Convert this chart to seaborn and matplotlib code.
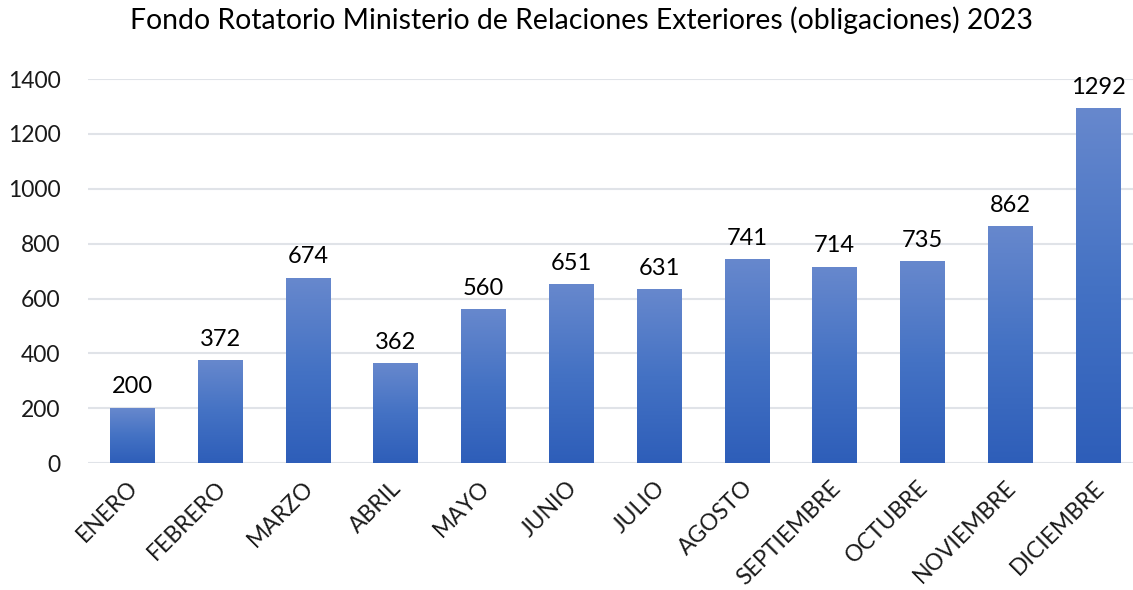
import matplotlib
matplotlib.use("Agg")
import matplotlib.pyplot as plt
import matplotlib.transforms as mtransforms
import numpy as np
import pandas as pd
import seaborn as sns
from matplotlib.colors import LinearSegmentedColormap

months = ["ENERO", "FEBRERO", "MARZO", "ABRIL", "MAYO", "JUNIO", "JULIO",
          "AGOSTO", "SEPTIEMBRE", "OCTUBRE", "NOVIEMBRE", "DICIEMBRE"]
obligaciones = [200, 372, 674, 362, 560, 651, 631, 741, 714, 735, 862, 1292]

df = pd.DataFrame({"mes": months, "valor": obligaciones})

sns.set_theme(style="white")
plt.rcParams["font.family"] = ["Lato", "DejaVu Sans"]

fig, ax = plt.subplots(figsize=(11.33, 5.9), dpi=100)
fig.subplots_adjust(left=0.078, right=1.008, top=0.866, bottom=0.215)

sns.barplot(data=df, x="mes", y="valor", color="#4472C4", width=0.51, ax=ax)

# vertical gradient fill on each bar (Excel-style)
cmap = LinearSegmentedColormap.from_list("grad", ["#2E5EB9", "#4472C4", "#6788CD"])
grad = np.linspace(0, 1, 256).reshape(-1, 1)
for patch in ax.patches:
    x0, w, h = patch.get_x(), patch.get_width(), patch.get_height()
    patch.set_facecolor("none")
    patch.set_edgecolor("none")
    ax.imshow(grad, cmap=cmap, origin="lower", aspect="auto",
              extent=(x0, x0 + w, 0, h), zorder=2)
    ax.text(x0 + w / 2, h + 40, f"{int(h)}", ha="center", va="bottom",
            fontsize=17, color="black")

ax.set_xlim(-0.5, len(months) - 0.5)
ax.set_ylim(0, 1400)
ax.set_yticks(range(0, 1401, 200))
ax.yaxis.grid(True, color="#E0E3E8", linewidth=1.5)
ax.set_axisbelow(True)
for s in ax.spines.values():
    s.set_visible(False)

ax.set_xlabel("")
ax.set_ylabel("")
ax.tick_params(axis="both", length=0, labelsize=16.5, colors="#1a1a1a")
ax.tick_params(axis="y", pad=20)
ax.tick_params(axis="x", pad=10)
shift = mtransforms.ScaledTranslation(-5 / 100, 0, fig.dpi_scale_trans)
for lbl in ax.get_xticklabels():
    lbl.set_rotation(45)
    lbl.set_ha("right")
    lbl.set_rotation_mode("anchor")
    lbl.set_transform(lbl.get_transform() + shift)

fig.suptitle("Fondo Rotatorio Ministerio de Relaciones Exteriores (obligaciones) 2023",
             fontsize=20.4, y=0.99, x=0.513, color="black")

fig.savefig("out.png", dpi=100)
